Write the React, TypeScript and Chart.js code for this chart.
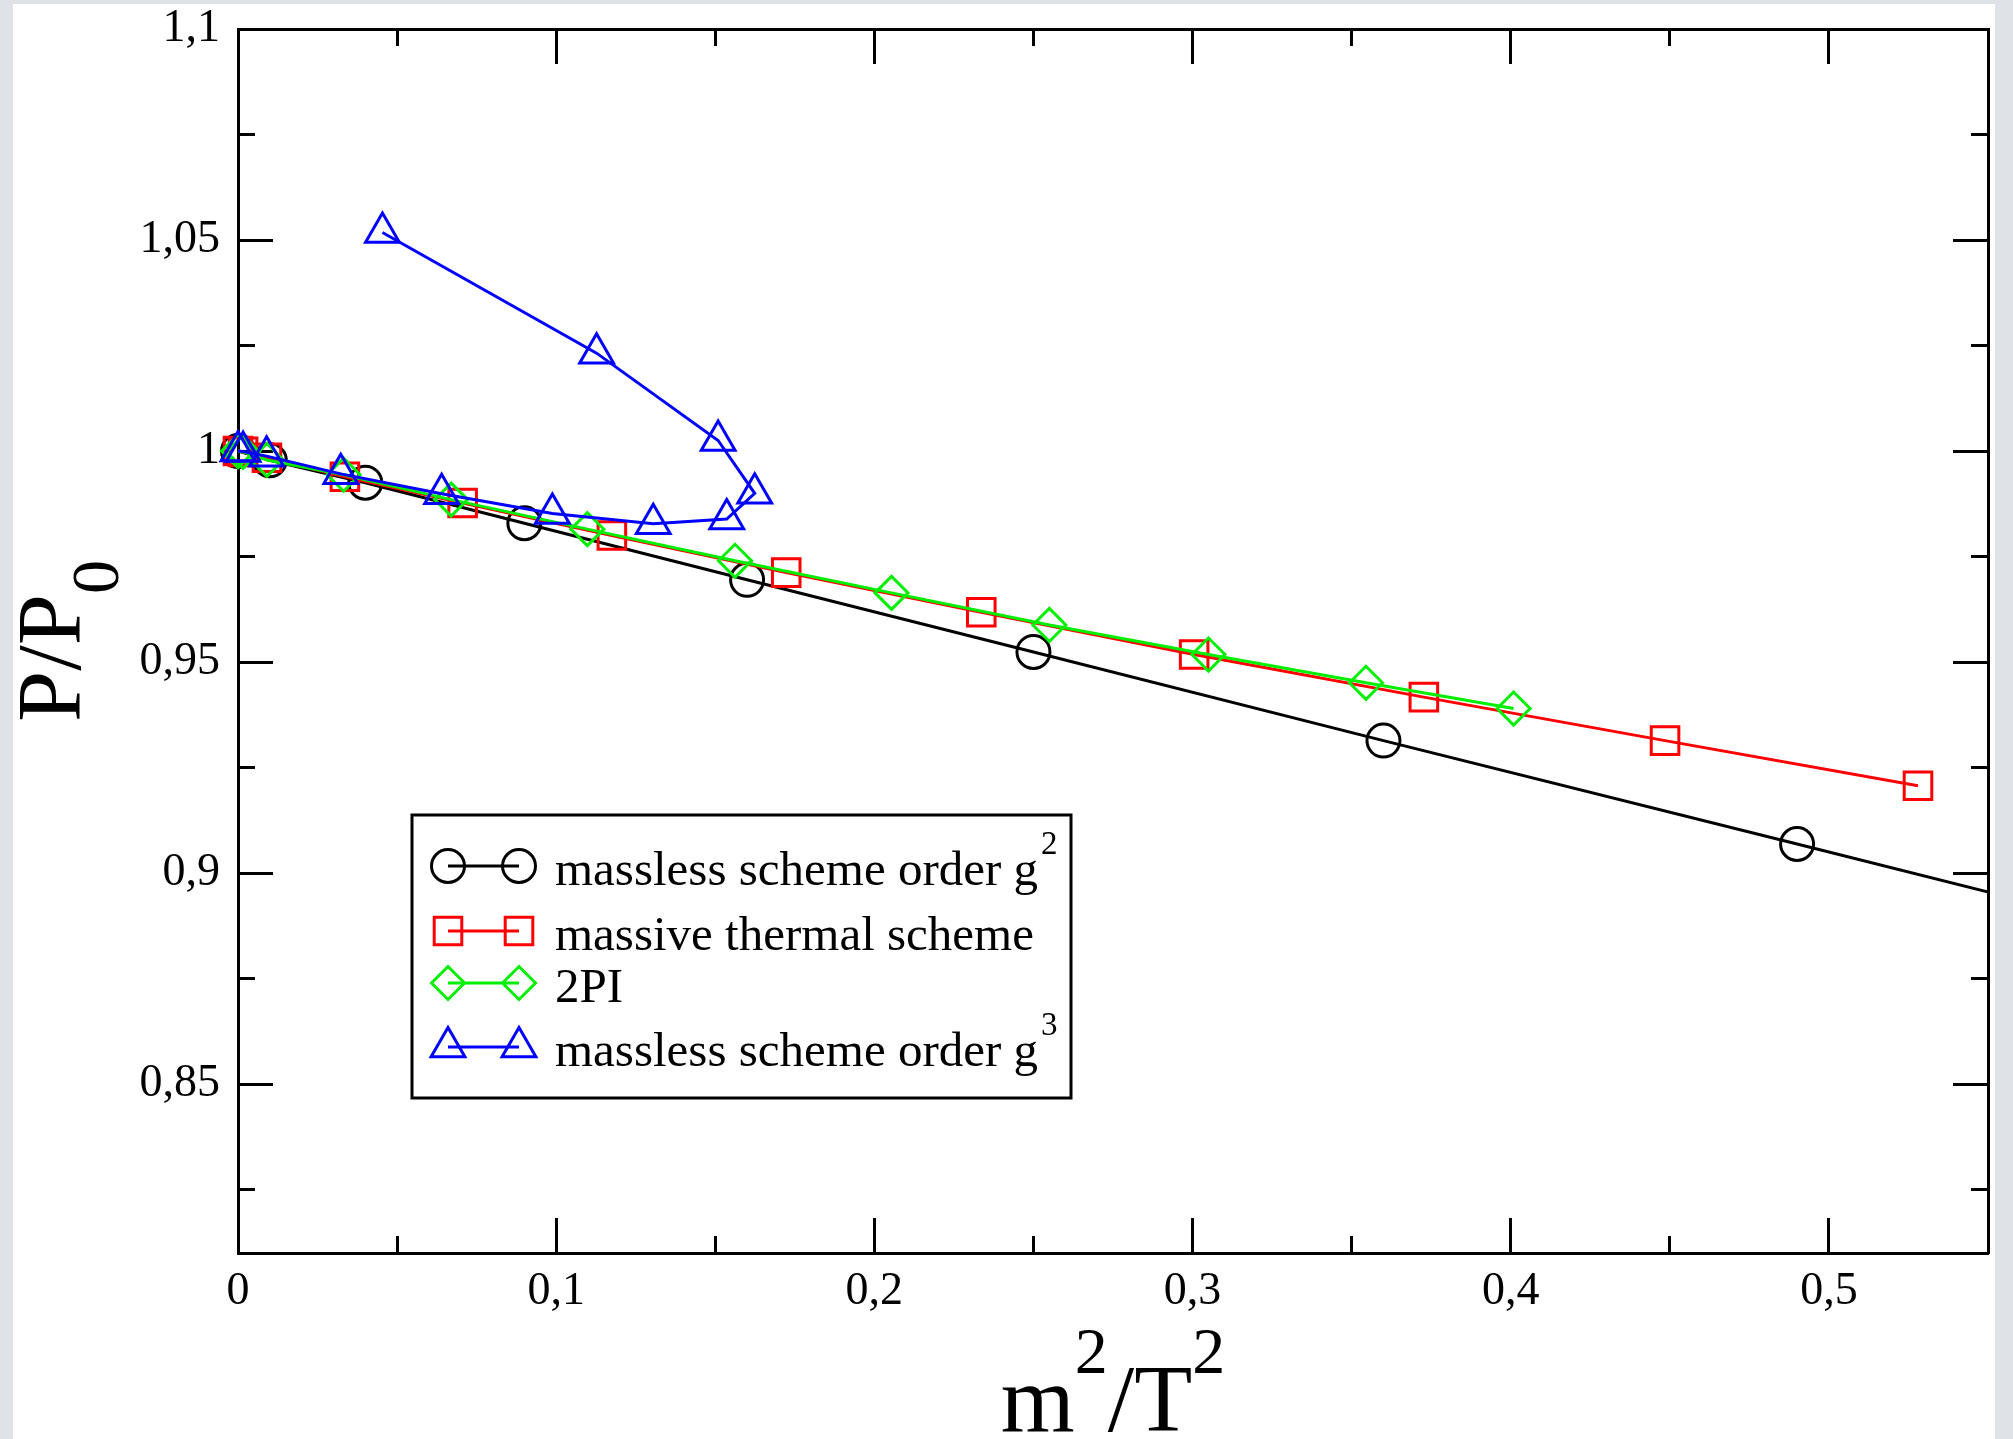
import React, { useEffect, useRef } from 'react';
import { Chart, registerables } from 'chart.js';

Chart.register(...registerables);

// ---------- data ----------
const G2_X = [0, 0.01, 0.04, 0.09, 0.16, 0.25, 0.36, 0.49, 0.64];
const G2_Y = [1.0, 0.9978, 0.9925, 0.9829, 0.9695, 0.9524, 0.9314, 0.9069, 0.8785];

const THERMAL_X = [0, 0.0016, 0.0091, 0.0336, 0.0706, 0.1175, 0.1723, 0.2336, 0.3005, 0.3727, 0.4485, 0.528];
const THERMAL_Y = [1.0, 0.9998, 0.9984, 0.9939, 0.9877, 0.98, 0.9712, 0.9618, 0.9518, 0.9417, 0.9314, 0.9207];

const PI2_X = [0, 0.0016, 0.0091, 0.0332, 0.067, 0.1098, 0.1562, 0.2054, 0.255, 0.305, 0.3545, 0.4009];
const PI2_Y = [1.0, 0.9998, 0.9979, 0.9944, 0.9885, 0.9815, 0.974, 0.9664, 0.9588, 0.9518, 0.9451, 0.939];

const G3_X = [0, 0.0016, 0.009, 0.0323, 0.064, 0.0988, 0.1305, 0.1536, 0.1624, 0.1509, 0.1127, 0.0454];
const G3_Y = [1.0, 0.9999, 0.9988, 0.9946, 0.9899, 0.9852, 0.9828, 0.9839, 0.99, 1.0025, 1.0232, 1.0518];

const SERIES_LABELS = ['massless scheme order g²', 'massive thermal scheme', '2PI', 'massless scheme order g³'];
const LEGEND_MAIN = ['massless scheme order g', 'massive thermal scheme', '2PI', 'massless scheme order g'];
const LEGEND_SUP = ['2', '', '', '3'];
const SERIES_COLORS = ['#000000', '#ff0000', '#00ee00', '#0000ff'];
const SERIES_STYLES = ['circle', 'rect', 'rectRot', 'triangle'];
const SERIES_RADII = [16.5, 19.5, 16.5, 19.5];

const X_MIN = 0;
const X_MAX = 0.55;
const Y_MIN = 0.81;
const Y_MAX = 1.1;

const X_TICKS = [0, 0.1, 0.2, 0.3, 0.4, 0.5];
const X_TICK_LABELS = ['0', '0,1', '0,2', '0,3', '0,4', '0,5'];
const X_MINOR_TICKS = [0.05, 0.15, 0.25, 0.35, 0.45];
const Y_TICKS = [0.85, 0.9, 0.95, 1.0, 1.05, 1.1];
const Y_TICK_LABELS = ['0,85', '0,9', '0,95', '1', '1,05', '1,1'];
const Y_MINOR_TICKS = [0.825, 0.875, 0.925, 0.975, 1.025, 1.075];

const X_TITLE_PARTS = ['m', '2', '/', 'T', '2'];
const X_TITLE_SUP = [false, true, false, false, true];
const Y_TITLE_MAIN = 'P/P';
const Y_TITLE_SUB = '0';

// ---------- styling ----------
const FONT = "'Liberation Serif', 'Times New Roman', serif";
const W = 2013;
const H = 1439;

function pts(xs: number[], ys: number[]) {
  return xs.map((x, i) => ({ x, y: ys[i] }));
}

function makeAxis(
  axis: 'x' | 'y',
  position: string,
  ticks: number[],
  labels: string[] | null,
  len: number,
  weight: number,
  size: number,
  padding: number
) {
  return {
    type: 'linear',
    axis,
    position,
    min: axis === 'x' ? X_MIN : Y_MIN,
    max: axis === 'x' ? X_MAX : Y_MAX,
    weight,
    afterBuildTicks: (s: any) => {
      s.ticks = ticks.map((v) => ({ value: v }));
    },
    afterFit: (s: any) => {
      if (axis === 'x') s.height = size;
      else s.width = size;
      s.paddingTop = 0;
      s.paddingBottom = 0;
      s.paddingLeft = 0;
      s.paddingRight = 0;
    },
    grid: {
      display: true,
      drawOnChartArea: false,
      drawTicks: true,
      tickLength: -len,
      tickWidth: 3,
      tickColor: '#000',
    },
    border: { display: true, color: '#000', width: 3 },
    ticks: labels
      ? {
          display: true,
          autoSkip: false,
          maxRotation: 0,
          color: '#000',
          padding,
          font: { family: FONT, size: 46 },
          callback: (_v: any, i: number) => labels[i],
        }
      : { display: false },
  };
}

function drawMarker(ctx: CanvasRenderingContext2D, style: string, r: number, x: number, y: number) {
  ctx.beginPath();
  if (style === 'circle') {
    ctx.arc(x, y, r, 0, Math.PI * 2);
  } else if (style === 'rect') {
    const s = Math.SQRT1_2 * r;
    ctx.rect(x - s, y - s, 2 * s, 2 * s);
  } else if (style === 'rectRot') {
    ctx.moveTo(x - r, y);
    ctx.lineTo(x, y - r);
    ctx.lineTo(x + r, y);
    ctx.lineTo(x, y + r);
    ctx.closePath();
  } else {
    ctx.moveTo(x, y - r);
    ctx.lineTo(x + r * Math.sin(Math.PI * 2 / 3), y - r * Math.cos(Math.PI * 2 / 3));
    ctx.lineTo(x + r * Math.sin(Math.PI * 4 / 3), y - r * Math.cos(Math.PI * 4 / 3));
    ctx.closePath();
  }
  ctx.stroke();
}

const annotPlugin = {
  id: 'annot',
  afterDraw(chart: any) {
    const ctx: CanvasRenderingContext2D = chart.ctx;
    const area = chart.chartArea;
    ctx.save();
    ctx.fillStyle = '#000';
    ctx.textBaseline = 'alphabetic';
    ctx.textAlign = 'left';

    // ----- x title -----
    const mainSize = 95;
    const supSize = 66;
    let total = 0;
    const widths: number[] = [];
    X_TITLE_PARTS.forEach((p, i) => {
      ctx.font = `${X_TITLE_SUP[i] ? supSize : mainSize}px ${FONT}`;
      const w = ctx.measureText(p).width;
      widths.push(w);
      total += w;
    });
    let x = (area.left + area.right) / 2 - total / 2;
    const base = 1431;
    X_TITLE_PARTS.forEach((p, i) => {
      ctx.font = `${X_TITLE_SUP[i] ? supSize : mainSize}px ${FONT}`;
      ctx.fillText(p, x, X_TITLE_SUP[i] ? base - 58 : base);
      x += widths[i];
    });

    // ----- y title -----
    ctx.save();
    const cy = (area.top + area.bottom) / 2;
    ctx.translate(80, cy);
    ctx.rotate(-Math.PI / 2);
    ctx.font = `92px ${FONT}`;
    const wMain = ctx.measureText(Y_TITLE_MAIN).width;
    ctx.font = `68px ${FONT}`;
    const wSub = ctx.measureText(Y_TITLE_SUB).width;
    const start = -(wMain + wSub) / 2;
    ctx.font = `92px ${FONT}`;
    ctx.fillText(Y_TITLE_MAIN, start, 0);
    ctx.font = `68px ${FONT}`;
    ctx.fillText(Y_TITLE_SUB, start + wMain, 38);
    ctx.restore();

    // ----- legend -----
    const bx = 412, by = 815, bw = 659, bh = 283;
    ctx.fillStyle = '#fff';
    ctx.fillRect(bx, by, bw, bh);
    ctx.lineWidth = 3;
    ctx.strokeStyle = '#000';
    ctx.strokeRect(bx, by, bw, bh);
    const rows = [866, 931, 983, 1047];
    LEGEND_MAIN.forEach((label, i) => {
      const ry = rows[i];
      ctx.strokeStyle = SERIES_COLORS[i];
      ctx.lineWidth = 3;
      ctx.beginPath();
      ctx.moveTo(448, ry);
      ctx.lineTo(519, ry);
      ctx.stroke();
      drawMarker(ctx, SERIES_STYLES[i], SERIES_RADII[i], 448, ry);
      drawMarker(ctx, SERIES_STYLES[i], SERIES_RADII[i], 519, ry);
      ctx.fillStyle = '#000';
      ctx.font = `49px ${FONT}`;
      ctx.fillText(label, 555, ry + 19);
      if (LEGEND_SUP[i]) {
        const lw = ctx.measureText(label).width;
        ctx.font = `33px ${FONT}`;
        ctx.fillText(LEGEND_SUP[i], 555 + lw + 3, ry + 19 - 31);
      }
    });
    ctx.restore();
  },
};

export default function App() {
  const ref = useRef<HTMLCanvasElement>(null);

  useEffect(() => {
    const seriesX = [G2_X, THERMAL_X, PI2_X, G3_X];
    const seriesY = [G2_Y, THERMAL_Y, PI2_Y, G3_Y];
    const datasets = SERIES_LABELS.map((label, i) => ({
      label,
      data: pts(seriesX[i], seriesY[i]),
      showLine: true,
      borderColor: SERIES_COLORS[i],
      borderWidth: 3,
      tension: 0,
      pointStyle: SERIES_STYLES[i],
      pointRadius: SERIES_RADII[i],
      pointHoverRadius: SERIES_RADII[i],
      pointBorderWidth: 3,
      pointBorderColor: SERIES_COLORS[i],
      pointBackgroundColor: 'rgba(0,0,0,0)',
      order: 4 - i,
      clip: { left: false, top: false, right: 0, bottom: false },
      xAxisID: 'x',
      yAxisID: 'y',
    }));

    const chart = new Chart(ref.current as HTMLCanvasElement, {
      type: 'scatter',
      data: { datasets } as any,
      options: {
        responsive: false,
        animation: false,
        devicePixelRatio: 1,
        layout: { padding: { left: 0, top: 29, right: W - 1988, bottom: 0 } },
        plugins: {
          legend: { display: false },
          tooltip: { enabled: false },
        },
        events: [],
        scales: {
          x: makeAxis('x', 'bottom', X_TICKS, X_TICK_LABELS, 35, 1, H - 1253, 46),
          xMinor: makeAxis('x', 'bottom', X_MINOR_TICKS, null, 17, 0, 0, 0),
          xTop: makeAxis('x', 'top', X_TICKS, null, 35, 0, 0, 0),
          xTopMinor: makeAxis('x', 'top', X_MINOR_TICKS, null, 17, 0, 0, 0),
          y: makeAxis('y', 'left', Y_TICKS, Y_TICK_LABELS, 35, 1, 238, 53),
          yMinor: makeAxis('y', 'left', Y_MINOR_TICKS, null, 17, 0, 0, 0),
          yRight: makeAxis('y', 'right', Y_TICKS, null, 35, 0, 0, 0),
          yRightMinor: makeAxis('y', 'right', Y_MINOR_TICKS, null, 17, 0, 0, 0),
        } as any,
      },
      plugins: [annotPlugin],
    } as any);
    return () => chart.destroy();
  }, []);

  return (
    <div
      style={{
        position: 'fixed',
        left: 0,
        top: 0,
        width: W,
        height: H,
        background: '#dfe2e7',
        overflow: 'hidden',
      }}
    >
      <div style={{ position: 'absolute', left: 13, top: 4, width: 1982, height: 1435, background: '#ffffff' }} />
      <canvas ref={ref} width={W} height={H} style={{ position: 'absolute', left: 0, top: 0, width: W, height: H }} />
    </div>
  );
}
